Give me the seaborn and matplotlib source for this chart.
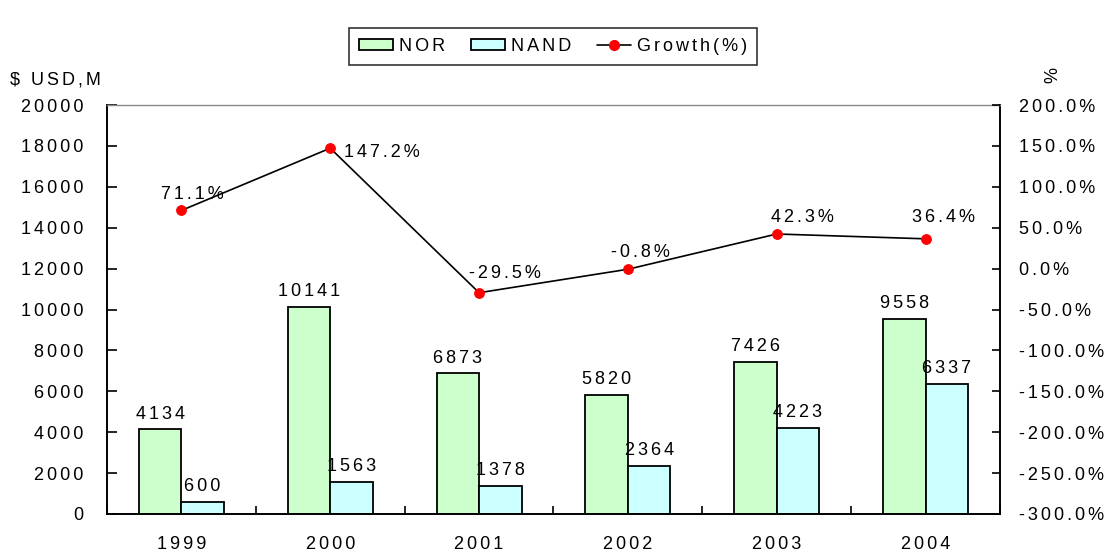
import numpy as np
import pandas as pd
import seaborn as sns
import matplotlib.pyplot as plt
import matplotlib.ticker as ticker
from matplotlib.lines import Line2D
from matplotlib.patches import Patch

years = ["1999", "2000", "2001", "2002", "2003", "2004"]
nor = [4134, 10141, 6873, 5820, 7426, 9558]
nand = [600, 1563, 1378, 2364, 4223, 6337]
growth = [71.1, 147.2, -29.5, -0.8, 42.3, 36.4]

nor_color = "#ccffcc"
nand_color = "#ccffff"
fs = 13


def spaced(s):
    # the original uses wide letter spacing; six-per-em spaces between characters
    return "\u2006".join(s)


sns.set_theme(style="white")
plt.rcParams["font.family"] = ["Liberation Sans", "DejaVu Sans"]
plt.rcParams["text.color"] = "black"
plt.rcParams["xtick.color"] = "black"
plt.rcParams["ytick.color"] = "black"

df = pd.DataFrame({"Year": years * 2,
                   "Type": ["NOR"] * 6 + ["NAND"] * 6,
                   "Value": nor + nand})

fig = plt.figure(figsize=(11.12, 5.53), dpi=100)
ax = fig.add_axes([107 / 1112, 1 - 514 / 553, 893 / 1112, 409 / 553])

sns.barplot(data=df, x="Year", y="Value", hue="Type", hue_order=["NOR", "NAND"],
            palette=[nor_color, nand_color], width=0.57, edgecolor="black",
            linewidth=1.3, saturation=1, legend=False, ax=ax)

for cont in ax.containers:
    ax.bar_label(cont, labels=[spaced(f"{v:.0f}") for v in cont.datavalues],
                 padding=5, fontsize=fs)

ax.set_ylim(0, 20000)
ax.set_xlim(-0.5, 5.5)
ax.yaxis.set_major_locator(ticker.MultipleLocator(2000))
ax.yaxis.set_major_formatter(ticker.FuncFormatter(lambda v, p: spaced(f"{v:.0f}")))
ax.set_xticks(range(len(years)))
ax.set_xticklabels([spaced(y) for y in years])
ax.set_xlabel("")
ax.set_ylabel("")
ax.tick_params(axis="y", direction="in", length=7, width=1.2, left=True,
               labelsize=fs, pad=17)
ax.tick_params(axis="x", bottom=False, labelsize=fs, pad=10)
# category separators ticking inward on the x axis
ax.set_xticks(np.arange(-0.5, 6, 1), minor=True)
ax.tick_params(axis="x", which="minor", direction="in", length=6, width=1.2, bottom=True)

for s in ["left", "bottom", "right"]:
    ax.spines[s].set_color("black")
    ax.spines[s].set_linewidth(1.4)
ax.spines["top"].set_color("#888888")
ax.spines["top"].set_linewidth(1.0)

ax2 = ax.twinx()
sns.lineplot(x=np.arange(len(years)), y=growth, color="black", linewidth=1.2,
             marker="o", markersize=7, markerfacecolor="red", markeredgecolor="red",
             ax=ax2)
ax2.set_ylim(-300, 200)
ax2.yaxis.set_major_locator(ticker.MultipleLocator(50))
ax2.yaxis.set_major_formatter(ticker.FuncFormatter(lambda v, p: spaced(f"{v:.1f}%")))
ax2.tick_params(axis="y", direction="in", length=6, width=1.2, right=True,
                labelsize=fs, pad=14)
for s in ax2.spines.values():
    s.set_visible(False)

offsets = [(-15, 11.5), (10, -3), (-7, 14), (-12, 12), (-4, 12), (-10, 15)]
for i, g in enumerate(growth):
    ax2.annotate(spaced(f"{g:.1f}%"), (i, g), xytext=offsets[i],
                 textcoords="offset points", fontsize=fs, ha="left", va="center")

fig.text(10 / 1112, 1 - 80 / 553, spaced("$ USD,M"), fontsize=fs, va="center")
fig.text(1053 / 1112, 1 - 75 / 553, "%", fontsize=fs, va="center", ha="center",
         rotation=90)

handles = [Patch(facecolor=nor_color, edgecolor="black", linewidth=1.3),
           Patch(facecolor=nand_color, edgecolor="black", linewidth=1.3),
           Line2D([0], [0], color="black", linewidth=1.2, marker="o",
                  markerfacecolor="red", markeredgecolor="red", markersize=7)]
leg = fig.legend(handles, [spaced("NOR"), spaced("NAND"), spaced("Growth(%)")],
                 loc="upper center", bbox_to_anchor=(553 / 1112, 1 - 19 / 553),
                 ncol=3, fontsize=fs, frameon=True, fancybox=False,
                 edgecolor="black", handlelength=1.9, handleheight=0.5,
                 columnspacing=1.4, handletextpad=0.35, borderpad=0.55)
leg.get_frame().set_linewidth(1.2)

plt.savefig("out.png", dpi=100)
